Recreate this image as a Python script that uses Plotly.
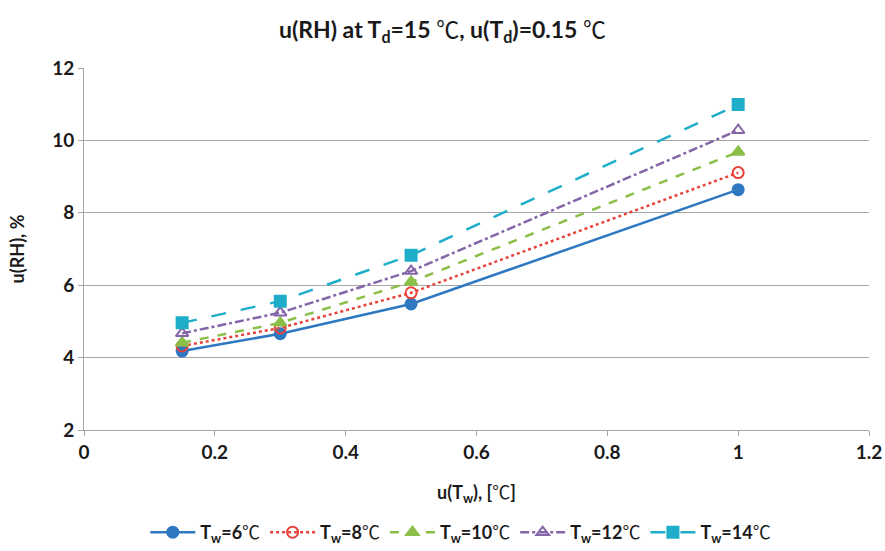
import plotly.graph_objects as go

x_vals = [0.15, 0.3, 0.5, 1.0]
tw6 = [4.18, 4.66, 5.48, 8.64]
tw8 = [4.32, 4.82, 5.79, 9.11]
tw10 = [4.41, 4.96, 6.09, 9.68]
tw12 = [4.67, 5.24, 6.39, 10.28]
tw14 = [4.96, 5.56, 6.83, 10.99]
DEG = '<span style="font-family:Noto Sans CJK SC;font-weight:normal">℃</span>'
names = [f"T<sub>w</sub>=6{DEG}", f"T<sub>w</sub>=8{DEG}", f"T<sub>w</sub>=10{DEG}",
         f"T<sub>w</sub>=12{DEG}", f"T<sub>w</sub>=14{DEG}"]
series = [tw6, tw8, tw10, tw12, tw14]
colors = ["#2E78C2", "#E8433B", "#8CBF48", "#8466A8", "#1FAEC9"]
dashes = ["solid", "dot", "dash", "dashdot", "longdash"]
symbols = ["circle", "circle-open", "triangle-up", "triangle-up-open", "square"]

FONT = "Lato"
TXT = "#1a1a1a"
fig = go.Figure()
for name, ys, c, d, s in zip(names, series, colors, dashes, symbols):
    fig.add_trace(go.Scatter(
        x=x_vals, y=ys, name="<b>" + name + "</b>", mode="lines+markers",
        line=dict(color=c, width=2.5, dash=d),
        marker=dict(symbol=s, size=11, color=c, line=dict(color=c, width=2)),
    ))

fig.update_layout(
    width=885, height=551,
    margin=dict(l=84, r=16, t=68, b=121),
    paper_bgcolor="white", plot_bgcolor="white",
    font=dict(family=FONT, size=18, color=TXT),
    title=dict(text=f"<b>u(RH) at T<sub>d</sub>=15 {DEG}, u(T<sub>d</sub>)=0.15 {DEG}</b>",
               x=0.5, xanchor="center", y=0.945, yanchor="middle",
               font=dict(family=FONT, size=23, color=TXT)),
    legend=dict(orientation="h", x=0.48, xanchor="center",
                yref="container", y=-0.01, yanchor="bottom",
                font=dict(family=FONT, size=18, color=TXT),
                itemwidth=45),
    xaxis=dict(range=[0, 1.2], dtick=0.2, tickmode="linear", tick0=0,
               automargin=False,
               showgrid=False, zeroline=False,
               showline=True, linecolor="#a6a6a6", linewidth=1,
               ticks="outside", ticklen=5, tickcolor="#a6a6a6",
               tickfont=dict(family=FONT, size=19, color=TXT),
               tickformat="~g", tickprefix="<b>", ticksuffix="</b>",
               title=dict(text=f"<b>u(T<sub>w</sub>), [{DEG}]</b>", standoff=24,
                          font=dict(family=FONT, size=18, color=TXT))),
    yaxis=dict(range=[2, 12], dtick=2, tickmode="linear", tick0=2,
               automargin=False,
               showgrid=True, gridcolor="#a6a6a6", gridwidth=1,
               zeroline=False,
               showline=True, linecolor="#a6a6a6", linewidth=1,
               ticks="outside", ticklen=5, tickcolor="#a6a6a6",
               tickfont=dict(family=FONT, size=19, color=TXT),
               tickprefix="<b>", ticksuffix="</b>",
               title=dict(text="<b>u(RH), %</b>", standoff=22,
                          font=dict(family=FONT, size=18, color=TXT))),
)

fig.write_html("out.html", config={"displayModeBar": False},
               post_script="document.body.style.margin='0';document.body.style.overflow='hidden';")
